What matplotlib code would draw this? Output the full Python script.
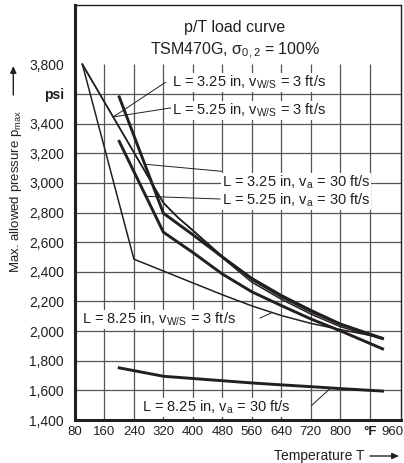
import matplotlib

matplotlib.use("Agg")

import matplotlib.pyplot as plt
from matplotlib.patches import FancyArrowPatch
from matplotlib.transforms import ScaledTranslation

plt.rcParams["font.family"] = ["Liberation Sans", "DejaVu Sans"]
plt.rcParams["mathtext.fontset"] = "custom"
plt.rcParams["mathtext.rm"] = "Liberation Sans"
plt.rcParams["mathtext.it"] = "Liberation Sans:italic"

INK = "#231f20"

# curve data (temperature in °F, pressure in psi)
T_WS_3 = [100, 320, 360, 400, 480, 560, 640, 720, 800, 915]
P_WS_325 = [3800, 2865, 2765, 2680, 2505, 2345, 2228, 2128, 2042, 1955]
P_WS_525 = [3800, 2865, 2765, 2678, 2495, 2330, 2215, 2115, 2030, 1945]

T_WS_825 = [100, 240, 320, 400, 480, 560, 640, 720, 800, 915]
P_WS_825 = [3800, 2485, 2405, 2325, 2245, 2170, 2105, 2052, 2010, 1955]

T_VA = [200, 320, 400, 480, 560, 640, 720, 800, 915]
P_VA_325 = [3580, 2795, 2650, 2500, 2355, 2240, 2140, 2048, 1950]
P_VA_525 = [3280, 2667, 2530, 2385, 2265, 2172, 2082, 2002, 1880]
P_VA_825 = [1752, 1695, 1680, 1665, 1650, 1637, 1625, 1612, 1595]

X_TICKS = [80, 160, 240, 320, 400, 480, 560, 640, 720, 800, 880, 960]
X_LABELS = ["80", "160", "240", "320", "400", "480", "560", "640", "720", "800", "°F", "960"]
Y_TICKS = [1400, 1600, 1800, 2000, 2200, 2400, 2600, 2800, 3000, 3200, 3400, 3600, 3800]
Y_LABELS = ["1,400", "1,600", "1,800", "2,000", "2,200", "2,400", "2,600",
            "2,800", "3,000", "3,200", "3,400", "psi", "3,800"]

# label text, text anchor (T, p), leader start, leader end
LABELS = [
    (r"L = 3.25 in, v$_{\mathrm{W/S}}$ = 3 ft/s", (343, 3648), (326, 3679), (184, 3445)),
    (r"L = 5.25 in, v$_{\mathrm{W/S}}$ = 3 ft/s", (343, 3461), (341, 3506), (184, 3445)),
    (r"L = 3.25 in, v$_{\mathrm{a}}$ = 30 ft/s", (478, 2976), (478, 3078), (272, 3125)),
    (r"L = 5.25 in, v$_{\mathrm{a}}$ = 30 ft/s", (478, 2853), (474, 2891), (272, 2909)),
    (r"L = 8.25 in, v$_{\mathrm{W/S}}$ = 3 ft/s", (98, 2049), (582, 2087), (614, 2124)),
    (r"L = 8.25 in, v$_{\mathrm{a}}$ = 30 ft/s", (261, 1456), (722, 1497), (772, 1612)),
]

fig = plt.figure(figsize=(4.04, 4.63), dpi=100)
ax = fig.add_axes([75 / 404, 43 / 463, 326 / 404, 415 / 463])
ax.set_xlim(80, 965)
ax.set_ylim(1400, 4200)

# grid only inside the data field (no grid in the title area)
ax.vlines(X_TICKS[1:-1], 1400, 3800, color="#555555", lw=0.9, zorder=1)
ax.hlines(Y_TICKS[1:-1], 80, 965, color="#555555", lw=0.9, zorder=1)

thin = dict(color=INK, lw=1.1, zorder=3, solid_joinstyle="miter")
thick = dict(color=INK, lw=2.1, zorder=3, solid_joinstyle="miter")
ax.plot(T_WS_3, P_WS_325, **thin)
ax.plot(T_WS_3, P_WS_525, **thin)
ax.plot(T_WS_825, P_WS_825, **thin)
ax.plot(T_VA, P_VA_325, **thick)
ax.plot(T_VA, P_VA_525, **thick)
ax.plot(T_VA, P_VA_825, **thick)

for text, anchor, start, end in LABELS:
    ax.annotate("", xy=end, xytext=start,
                arrowprops=dict(arrowstyle="-", color=INK, lw=0.7, shrinkA=0, shrinkB=0),
                zorder=4)
    ax.text(anchor[0], anchor[1], text, fontsize=10.5, color=INK, ha="left", va="baseline",
            zorder=5, bbox=dict(facecolor="white", edgecolor="none", pad=0.5))

ax.text(0.49, 0.945, "p/T load curve", transform=ax.transAxes, ha="center", va="center",
        fontsize=11.5, color=INK)
ax.text(0.49, 0.89, r"TSM470G, σ$_{\mathrm{0,2}}$ = 100%", transform=ax.transAxes,
        ha="center", va="center", fontsize=11.5, color=INK)

ax.set_xticks(X_TICKS, labels=X_LABELS)
ax.set_yticks(Y_TICKS, labels=Y_LABELS)
ax.tick_params(length=0, labelsize=10, colors=INK)
ax.tick_params(axis="x", pad=4, labelsize=9.5)
ax.tick_params(axis="y", pad=8)
ax.get_xticklabels()[X_LABELS.index("°F")].set_fontweight("bold")
ax.get_yticklabels()[Y_LABELS.index("psi")].set_fontweight("bold")
last = ax.get_xticklabels()[-1]
last.set_transform(last.get_transform() + ScaledTranslation(-7 / 100, 0, fig.dpi_scale_trans))

for side in ("left", "bottom"):
    ax.spines[side].set_linewidth(2.2)
for side in ("top", "right"):
    ax.spines[side].set_linewidth(1.0)
for sp in ax.spines.values():
    sp.set_color(INK)

fig.text(16 / 404, 1 - 191 / 463, r"Max. allowed pressure p$_{\mathrm{max}}$", rotation=90,
         ha="center", va="center", fontsize=9.5, color=INK)
fig.add_artist(FancyArrowPatch(
    (13.3 / 404, 1 - 95 / 463), (13.3 / 404, 1 - 66 / 463), transform=fig.transFigure,
    arrowstyle="-|>,head_length=4,head_width=1.8", color=INK, lw=1.0, shrinkA=0, shrinkB=0))

fig.text(319 / 404, 1 - 456 / 463, "Temperature T", ha="center", va="center",
         fontsize=10, color=INK)
fig.add_artist(FancyArrowPatch(
    (370 / 404, 1 - 456 / 463), (399 / 404, 1 - 456 / 463), transform=fig.transFigure,
    arrowstyle="-|>,head_length=4,head_width=1.8", color=INK, lw=1.0, shrinkA=0, shrinkB=0))

fig.savefig("out.png", dpi=100)
